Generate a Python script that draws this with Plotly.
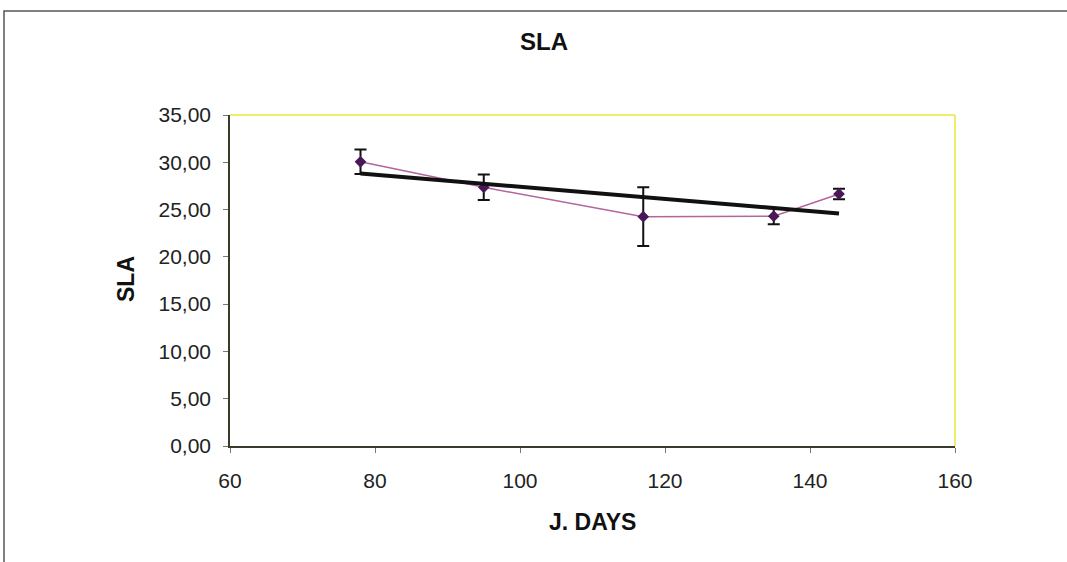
import numpy as np
import plotly.graph_objects as go

days = [78, 95, 117, 135, 144]
sla = [30.05, 27.35, 24.25, 24.3, 26.65]
sla_err = [1.3, 1.35, 3.1, 0.85, 0.55]
x_ticks = [60, 80, 100, 120, 140, 160]
y_ticks = [0, 5, 10, 15, 20, 25, 30, 35]

# Linear trendline (as in the spreadsheet)
slope, intercept = np.polyfit(days, sla, 1)
trend_x = [min(days), max(days)]
trend_y = [slope * v + intercept for v in trend_x]

fig = go.Figure()
fig.add_trace(go.Scatter(
    x=days, y=sla, mode="lines+markers",
    line=dict(color="#b4649e", width=1.5),
    marker=dict(symbol="diamond", size=9, color="#4a1858"),
    error_y=dict(type="data", array=sla_err, visible=True, color="#111111",
                 thickness=2, width=6),
    showlegend=False,
))
fig.add_trace(go.Scatter(
    x=trend_x, y=trend_y, mode="lines",
    line=dict(color="#111111", width=4),
    showlegend=False,
))

font = "Arial, Liberation Sans, sans-serif"
fig.update_layout(
    width=1067, height=562,
    margin=dict(l=230, r=112, t=115, b=116),
    paper_bgcolor="white", plot_bgcolor="white",
    separators=", ",
    font=dict(family=font, size=21, color="#222222"),
    xaxis=dict(range=[60, 160], tickvals=x_ticks, showgrid=False, zeroline=False,
               showline=True, linecolor="#3a3a2a", linewidth=1.5,
               ticks="outside", ticklen=5, tickcolor="#777777",
               tickfont=dict(size=21), ticklabelstandoff=10),
    yaxis=dict(range=[0, 35], tickvals=y_ticks, tickformat=".2f", showgrid=False,
               zeroline=False, showline=True, linecolor="#3a3a2a", linewidth=1.5,
               ticks="outside", ticklen=5, tickcolor="#777777",
               tickfont=dict(size=21), ticklabelstandoff=8),
    shapes=[
        dict(type="line", xref="paper", yref="paper", x0=0, x1=1, y0=1, y1=1,
             line=dict(color="#eeee66", width=2)),
        dict(type="line", xref="paper", yref="paper", x0=1, x1=1, y0=0, y1=1,
             line=dict(color="#eeee66", width=2)),
        dict(type="rect", xref="paper", yref="paper",
             x0=(4 - 230) / 725, x1=1.3, y0=-0.5, y1=(446 - 11) / 331,
             line=dict(color="#555555", width=1.5)),
    ],
    annotations=[
        dict(text="<b>SLA</b>", xref="paper", yref="paper",
             x=(544 - 230) / 725, y=(446 - 42) / 331, showarrow=False,
             font=dict(size=24, color="#111111"), xanchor="center", yanchor="middle"),
        dict(text="<b>J. DAYS</b>", xref="paper", yref="paper",
             x=(592 - 230) / 725, y=(446 - 522) / 331, showarrow=False,
             font=dict(size=23, color="#111111"), xanchor="center", yanchor="middle"),
        dict(text="<b>SLA</b>", xref="paper", yref="paper",
             x=(126 - 230) / 725, y=(446 - 279) / 331, showarrow=False, textangle=-90,
             font=dict(size=23, color="#111111"), xanchor="center", yanchor="middle"),
    ],
)

fig.write_html("out.html")
